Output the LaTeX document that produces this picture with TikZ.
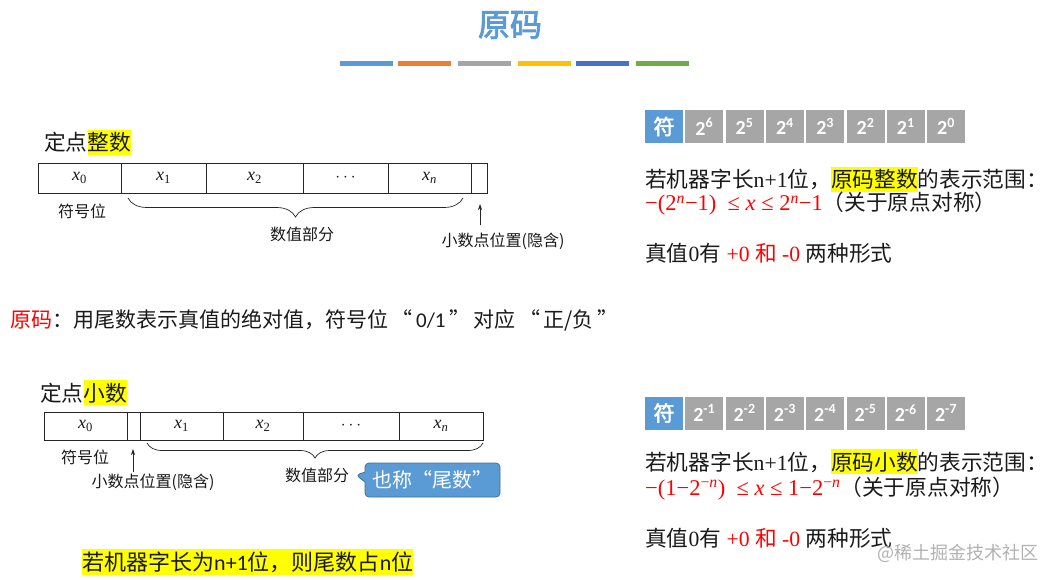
\documentclass[tikz,border=0pt]{standalone}
\usepackage{fontspec}
\setmainfont{Liberation Serif}
\newfontfamily\cjk[AutoFakeBold=2.5]{Noto Sans CJK SC}
\newfontfamily\calib{Carlito}
\usetikzlibrary{decorations.pathreplacing,shapes.callouts,arrows.meta}
\definecolor{tblue}{HTML}{5B9BD5}
\definecolor{torange}{HTML}{ED7D31}
\definecolor{tgray}{HTML}{A5A5A5}
\definecolor{tyellow}{HTML}{FFC000}
\definecolor{tdblue}{HTML}{4472C4}
\definecolor{tgreen}{HTML}{70AD47}
\definecolor{hlyellow}{HTML}{FFFF00}
\definecolor{tred}{HTML}{FF0000}
\definecolor{cellgray}{HTML}{A6A6A6}
\definecolor{cbluedark}{HTML}{41719C}
\definecolor{ink}{HTML}{1A1A1A}
\newcommand\hly[1]{{\setlength\fboxsep{0pt}\colorbox{hlyellow}{\rule[-0.2em]{0pt}{1.15em}#1}}}
\tikzset{
  txt/.style={inner sep=0pt, anchor=base west, text=ink, font=\fontsize{21.7}{25}\selectfont},
  txtmid/.style={inner sep=0pt, anchor=base west, text=ink, font=\fontsize{21}{24}\selectfont},
  lbl/.style={inner sep=0pt, text=ink, font=\fontsize{16}{19}\selectfont\cjk},
  cell/.style={draw=black!85, line width=0.7pt, inner sep=0pt, text=ink, font=\fontsize{18}{20}\selectfont},
  topcell/.style={cell, minimum height=30pt},
  botcell/.style={cell, minimum height=28pt},
  bitcell/.style={fill=cellgray, inner sep=0pt, minimum width=38pt, minimum height=33pt, text=white, font=\fontsize{20}{24}\selectfont\calib\bfseries},
  signcell/.style={bitcell, fill=tblue, font=\fontsize{21}{24}\selectfont\cjk\bfseries},
  bracedec/.style={draw=black!85, line width=0.7pt, decorate, decoration={brace, amplitude=#1}},
  uparrow/.style={draw=black!85, line width=0.7pt, -{Stealth[length=6pt,width=4pt]}},
  bar/.style={inner sep=0pt, minimum width=53pt, minimum height=5pt},
  formula/.style={txt, font=\fontsize{22.5}{25}\selectfont},
}
\begin{document}
\begin{tikzpicture}[x=1pt,y=-1pt]
\useasboundingbox[fill=white] (0,0) rectangle (1051,580);

% title
\node[inner sep=0pt, text=tblue, font=\fontsize{32}{36}\selectfont\cjk\bfseries] (title) at (510,25) {原码};
\node[bar, fill=tblue]   (bar1) at (366.5,63.5) {};
\node[bar, fill=torange] (bar2) at (424.5,63.5) {};
\node[bar, fill=tgray]   (bar3) at (484.5,63.5) {};
\node[bar, fill=tyellow] (bar4) at (544.5,63.5) {};
\node[bar, fill=tdblue]  (bar5) at (602.5,63.5) {};
\node[bar, fill=tgreen]  (bar6) at (662.5,63.5) {};

% ---------- top-left: integer ----------
\node[txt] (hint) at (44,151) {\cjk 定点\hly{整数}};
\node[topcell, minimum width=83pt] (a0) at (79.5,178) {\textit{x}\textsubscript{0}};
\node[topcell, minimum width=85pt] (a1) at (163.5,178) {\textit{x}\textsubscript{1}};
\node[topcell, minimum width=97pt] (a2) at (254.5,178) {\textit{x}\textsubscript{2}};
\node[topcell, minimum width=85pt] (a3) at (345.5,178) {$\cdots$};
\node[topcell, minimum width=83pt] (a4) at (429.5,178) {\textit{x}\textsubscript{\textit{n}}};
\node[topcell, minimum width=16pt] (a5) at (479,178) {};
\coordinate (br1r) at (463,198);
\coordinate (br1l) at (128,198);
\draw[bracedec=19pt] (br1r) -- (br1l);
\node[lbl] (sg1) at (82,211) {符号位};
\node[lbl] (val1) at (302,234) {数值部分};
\coordinate (ar1b) at (480,225);
\coordinate (ar1t) at (480,204);
\draw[uparrow] (ar1b) -- (ar1t);
\node[lbl] (pt1) at (503,241) {小数点位置(隐含)};

% ---------- middle sentence ----------
\node[txtmid] (def) at (10,327) {\cjk\textcolor{tred}{原码}：用尾数表示真值的绝对值，符号位\,“\,{\calib 0/1}\,”\,对应\,“\,正/负\,”};

% ---------- bottom-left: fraction ----------
\node[txt] (fhint) at (40,401) {\cjk 定点\hly{小数}};
\node[botcell, minimum width=83pt] (b0) at (85.5,426) {\textit{x}\textsubscript{0}};
\node[botcell, minimum width=13pt] (b1) at (133.5,426) {};
\node[botcell, minimum width=83pt] (b2) at (181.5,426) {\textit{x}\textsubscript{1}};
\node[botcell, minimum width=80pt] (b3) at (263,426) {\textit{x}\textsubscript{2}};
\node[botcell, minimum width=96pt] (b4) at (351,426) {$\cdots$};
\node[botcell, minimum width=84pt] (b5) at (441,426) {\textit{x}\textsubscript{\textit{n}}};
\coordinate (br2r) at (483,443);
\coordinate (br2l) at (147,443);
\draw[bracedec=15pt] (br2r) -- (br2l);
\node[lbl] (sg2) at (85,457) {符号位};
\coordinate (ar2b) at (133,472);
\coordinate (ar2t) at (133,449);
\draw[uparrow] (ar2b) -- (ar2t);
\node[lbl] (pt2) at (153,482) {小数点位置(隐含)};
\node[lbl] (val2) at (317,475) {数值部分};
\coordinate (tip) at (356,475);
\node[rectangle callout, fill=tblue, draw=cbluedark, line width=0.8pt, rounded corners=4pt,
      minimum width=135pt, minimum height=34pt, inner sep=0pt, text=white,
      callout absolute pointer={(tip)}, callout pointer width=10pt,
      font=\fontsize{20}{24}\selectfont\cjk] (nick) at (432.5,480) {也称“尾数”};

\node[txt, anchor=west, font=\fontsize{22}{25}\selectfont] (tail) at (82,562) {\hly{\cjk 若机器字长为{\calib n+1}位，则尾数占{\calib n}位}};

% ---------- top-right ----------
\node[signcell] (r0) at (664,126.5) {符};
\node[bitcell] (r1) at (704.3,126.5) {2\textsuperscript{6}};
\node[bitcell] (r2) at (744.6,126.5) {2\textsuperscript{5}};
\node[bitcell] (r3) at (784.9,126.5) {2\textsuperscript{4}};
\node[bitcell] (r4) at (825.2,126.5) {2\textsuperscript{3}};
\node[bitcell] (r5) at (865.5,126.5) {2\textsuperscript{2}};
\node[bitcell] (r6) at (905.8,126.5) {2\textsuperscript{1}};
\node[bitcell] (r7) at (946.1,126.5) {2\textsuperscript{0}};
\node[txt] (rng1) at (645,188) {{\cjk 若机器字长}n+1{\cjk 位，\hly{原码整数}的表示范围：}};
\node[formula] (f1) at (645,211) {\textcolor{tred}{−(2\textsuperscript{\textit{n}}−1)\ \ ≤ \textit{x} ≤ 2\textsuperscript{\textit{n}}−1}{\cjk\fontsize{21.7}{25}\selectfont（关于原点对称）}};
\node[txt] (z1) at (645,261) {{\cjk 真值}0{\cjk 有} \textcolor{tred}{+0 {\cjk 和} -0} {\cjk 两种形式}};

% ---------- bottom-right ----------
\node[signcell] (q0) at (664,413) {符};
\node[bitcell] (q1) at (704.3,413) {2\textsuperscript{-1}};
\node[bitcell] (q2) at (744.6,413) {2\textsuperscript{-2}};
\node[bitcell] (q3) at (784.9,413) {2\textsuperscript{-3}};
\node[bitcell] (q4) at (825.2,413) {2\textsuperscript{-4}};
\node[bitcell] (q5) at (865.5,413) {2\textsuperscript{-5}};
\node[bitcell] (q6) at (905.8,413) {2\textsuperscript{-6}};
\node[bitcell] (q7) at (946.1,413) {2\textsuperscript{-7}};
\node[txt] (rng2) at (645,470) {{\cjk 若机器字长}n+1{\cjk 位，\hly{原码小数}的表示范围：}};
\node[formula] (f2) at (645,495) {\textcolor{tred}{−(1−2\textsuperscript{−\textit{n}})\ \ ≤ \textit{x} ≤ 1−2\textsuperscript{−\textit{n}}}{\cjk\fontsize{21.7}{25}\selectfont（关于原点对称）}};
\node[txt] (z2) at (645,546) {{\cjk 真值}0{\cjk 有} \textcolor{tred}{+0 {\cjk 和} -0} {\cjk 两种形式}};

\node[inner sep=0pt, text=black!30, font=\fontsize{18}{22}\selectfont\cjk] (wm) at (958,553) {@稀土掘金技术社区};
\end{tikzpicture}
\end{document}
